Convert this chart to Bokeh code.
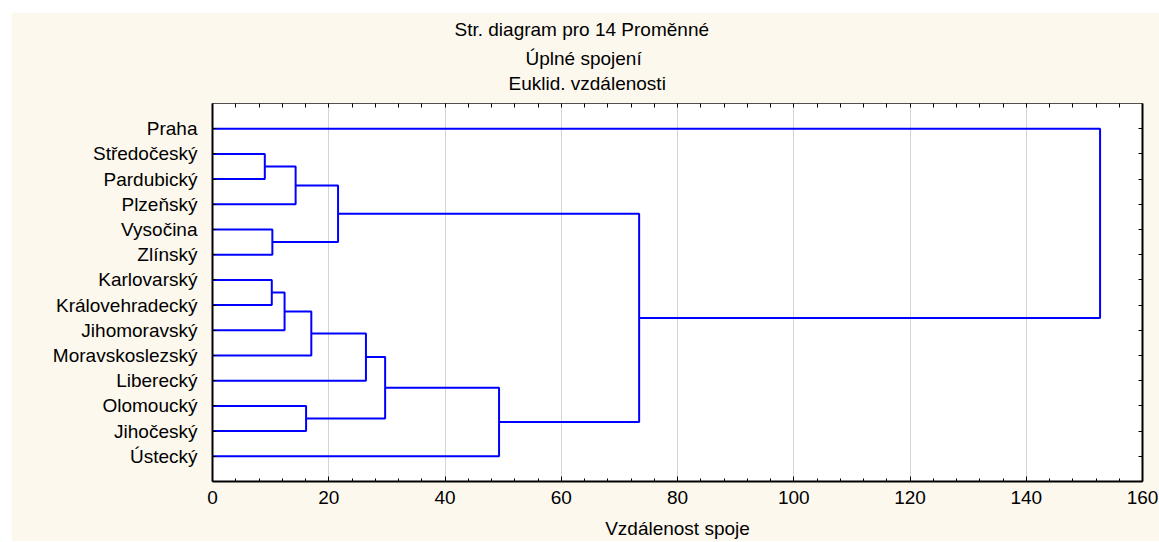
from bokeh.plotting import figure
from bokeh.models import Range1d, LinearAxis, FixedTicker, SingleIntervalTicker, Title
from bokeh.embed import file_html
from bokeh.resources import INLINE

# ---------------- data ----------------
labels = ["Praha", "Středočeský", "Pardubický", "Plzeňský", "Vysočina", "Zlínský",
          "Karlovarský", "Královehradecký", "Jihomoravský", "Moravskoslezský",
          "Liberecký", "Olomoucký", "Jihočeský", "Ústecký"]
# linkage: clusters 0..13 are leaves, each merge creates cluster 14, 15, ...
merge_left = [1, 4, 6, 16, 14, 11, 17, 18, 20, 22, 23, 21, 0]
merge_right = [2, 5, 7, 8, 3, 12, 9, 15, 10, 19, 13, 24, 25]
merge_dist = [9.0, 10.3, 10.2, 12.4, 14.3, 16.1, 17.0, 21.6, 26.4, 29.7, 49.3, 73.4, 152.7]
title_lines = ["Str. diagram pro 14  Proměnné", "Úplné spojení", "Euklid. vzdálenosti"]
x_label = "Vzdálenost spoje"
x_min, x_max, x_step, x_minor_step = 0, 160, 20, 4

# ---------------- dendrogram segments ----------------
pos = {i: float(i) for i in range(len(labels))}
hgt = {i: 0.0 for i in range(len(labels))}
xs, ys = [], []
for k, (a, b, d) in enumerate(zip(merge_left, merge_right, merge_dist)):
    xs.append([hgt[a], d, d, hgt[b]])
    ys.append([pos[a], pos[a], pos[b], pos[b]])
    nid = len(labels) + k
    pos[nid] = (pos[a] + pos[b]) / 2.0
    hgt[nid] = d

FONT = "Liberation Sans"
FS = "19px"
CREAM = "#FDF8EE"

p = figure(width=1148, height=529, margin=(12, 0, 0, 11),
           x_range=Range1d(x_min, x_max), y_range=Range1d(len(labels), -1),
           output_backend="svg", toolbar_location=None, title=None,
           min_border_left=201, min_border_right=17, min_border_top=91, min_border_bottom=59)
p.border_fill_color = CREAM
p.background_fill_color = "white"
p.outline_line_color = None

p.multi_line(xs, ys, line_color="#0000FF", line_width=2)

# x axis (bottom)
xa = p.xaxis[0]
xa.ticker = SingleIntervalTicker(interval=x_step, num_minor_ticks=x_step // x_minor_step)
xa.axis_line_width = 2
xa.axis_line_color = "black"
xa.major_tick_in = 5
xa.major_tick_out = 0
xa.minor_tick_in = 3
xa.minor_tick_out = 0
xa.major_label_text_font = FONT
xa.major_label_text_font_size = FS
xa.major_label_text_color = "black"
xa.major_label_standoff = 9
xa.axis_label = x_label
xa.axis_label_text_font = FONT
xa.axis_label_text_font_size = FS
xa.axis_label_text_font_style = "normal"
xa.axis_label_text_color = "black"
xa.axis_label_standoff = 11

# y axis (left)
ya = p.yaxis[0]
ya.ticker = FixedTicker(ticks=list(range(len(labels))))
ya.major_label_overrides = {i: lab for i, lab in enumerate(labels)}
ya.axis_line_width = 2
ya.axis_line_color = "black"
ya.major_tick_in = 4
ya.major_tick_out = 0
ya.minor_tick_line_color = None
ya.major_label_text_font = FONT
ya.major_label_text_font_size = FS
ya.major_label_text_color = "black"
ya.major_label_standoff = 15

# right axis: ticks only (as minor ticks, so no labels)
ra = LinearAxis(ticker=FixedTicker(ticks=[], minor_ticks=list(range(len(labels)))),
                axis_line_width=2, axis_line_color="black",
                minor_tick_in=4, minor_tick_out=0, major_tick_in=0, major_tick_out=0)
p.add_layout(ra, "right")

# top axis: ticks only
top_ticks = list(range(x_min, x_max + 1, x_minor_step))
ta = LinearAxis(ticker=FixedTicker(ticks=[], minor_ticks=top_ticks),
                axis_line_width=1, axis_line_color="#505050",
                minor_tick_in=4, minor_tick_out=0, major_tick_in=0, major_tick_out=0)
p.add_layout(ta, "above")

p.xgrid.grid_line_color = "#d4d4d4"
p.ygrid.grid_line_color = None

# titles: left aligned with offsets so that they are centred over the whole figure
title_offsets = [242, 313, 296]
title_pads = [dict(top=0, right=0, bottom=0, left=0),
              dict(top=4, right=0, bottom=0, left=0),
              dict(top=0, right=0, bottom=9, left=0)]
for line, off, pad in zip(reversed(title_lines), reversed(title_offsets), reversed(title_pads)):
    p.add_layout(Title(text=line, align="left", offset=off, text_font=FONT,
                       text_font_size=FS, text_font_style="normal", text_color="black",
                       standoff=2, padding=pad), "above")

open("out.html", "w").write(file_html(p, INLINE))
